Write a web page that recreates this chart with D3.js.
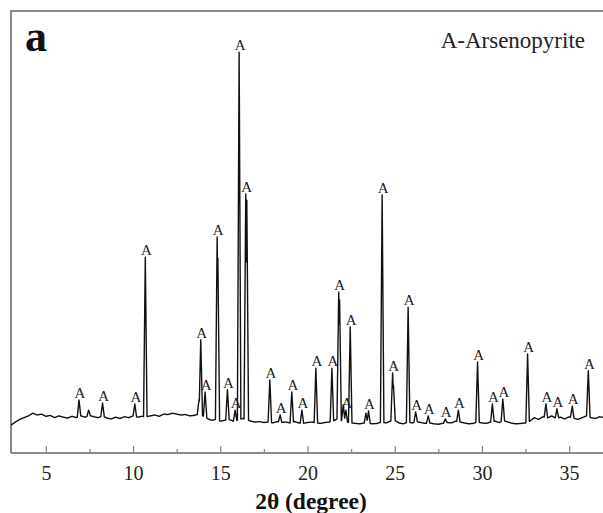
<!DOCTYPE html>
<html>
<head>
<meta charset="utf-8">
<script src="https://cdn.jsdelivr.net/npm/d3@7/dist/d3.min.js"></script>
<style>
  body { margin: 0; background: #fff; }
  svg { display: block; }
</style>
</head>
<body>
<svg width="603" height="513"></svg>
<script>
// labelled arsenopyrite reflections: 2theta and top intensity (arb. units)
var peakPos = [6.9, 8.25, 10.1, 10.7, 13.88, 14.13, 14.82, 15.41, 15.85, 16.08, 16.46, 17.84,
  18.43, 19.1, 19.68, 20.48, 21.4, 21.79, 22.2, 22.45, 23.5, 24.28, 24.88, 25.77,
  26.2, 26.92, 27.9, 28.65, 29.75, 30.6, 31.2, 32.62, 33.67, 34.3, 35.18, 36.1];
var peakTop = [120, 113, 111, 443, 256, 138, 489, 143, 97, 907, 586, 165,
  86, 138, 97, 192, 192, 364, 97, 285, 95, 584, 181, 330,
  93, 84, 77, 97, 206, 111, 122, 224, 111, 100, 106, 186];

// unlabelled shoulders / small reflections
var shoulderPos = [7.45, 13.78, 14.86, 16.52, 21.84, 22.05, 23.35, 24.93];
var shoulderTop = [97, 120, 441, 572, 346, 109, 90, 154];

// background, every 0.25 deg from 3 to 37
var bgStart = 3, bgStep = 0.25;
var bgInt = [63, 70, 76, 80, 84, 90, 86, 88, 83, 85, 80, 84, 81, 79, 83, 80,
  84, 81, 85, 82, 80, 84, 79, 77, 81, 78, 82, 80, 84, 81, 83, 82,
  84, 86, 83, 88, 87, 90, 88, 86, 87, 84, 85, 88, 84, 78, 74, 76,
  72, 74, 76, 72, 74, 78, 76, 72, 70, 71, 69, 70, 68, 71, 69, 70,
  68, 71, 68, 67, 69, 70, 68, 67, 69, 70, 73, 78, 72, 70, 68, 67,
  66, 68, 67, 66, 67, 70, 68, 72, 74, 68, 66, 70, 68, 71, 69, 67,
  68, 66, 65, 67, 69, 68, 72, 70, 68, 66, 67, 70, 68, 67, 70, 72,
  69, 73, 70, 67, 66, 67, 68, 72, 80, 76, 82, 79, 84, 78, 81, 77,
  82, 79, 76, 80, 84, 80, 78, 82, 80];

var xTicks = [5, 10, 15, 20, 25, 30, 35];
var xMinorTicks = [7.5, 12.5, 17.5, 22.5, 27.5, 32.5];

var svg = d3.select("svg");
var W = 603, H = 513;
var m = {left: 11, top: 11, right: 604, bottom: 453};
var halfWidth = 0.1;
var serif = "'Liberation Serif', 'Times New Roman', serif";

var x = d3.scaleLinear().domain([3, 37]).range([m.left, m.right]);
var y = d3.scaleLinear().domain([0, 1000]).range([m.bottom, m.top]);

var bgPos = bgInt.map(function(d, i) { return bgStart + i * bgStep; });
var bgAt = d3.scaleLinear().domain(bgPos).range(bgInt).clamp(true);

var allPos = peakPos.concat(shoulderPos);
var allTop = peakTop.concat(shoulderTop);
var net = allPos.map(function(p, i) { return allTop[i] - bgAt(p); });

function intensity(t) {
  var best = 0;
  allPos.forEach(function(p, i) {
    var v = net[i] * (1 - Math.abs(t - p) / halfWidth);
    if (v > best) best = v;
  });
  return bgAt(t) + best;
}

var samples = d3.range(3, 37.0001, 0.01).concat(allPos).sort(d3.ascending);
var trace = samples.map(function(t) { return [t, intensity(t)]; });

svg.append("rect").attr("width", W).attr("height", H).attr("fill", "#fff");

// frame (left and top edges)
svg.append("path")
    .attr("d", "M" + m.left + "," + m.bottom + "V" + m.top + "H" + W)
    .attr("fill", "none")
    .attr("stroke", "#8a8a8a")
    .attr("stroke-width", 2);

svg.append("clipPath").attr("id", "clip")
  .append("rect").attr("x", m.left).attr("y", 0).attr("width", W - m.left).attr("height", m.bottom);

svg.append("path")
    .datum(trace)
    .attr("clip-path", "url(#clip)")
    .attr("fill", "none")
    .attr("stroke", "#111")
    .attr("stroke-width", 1.4)
    .attr("stroke-linejoin", "round")
    .attr("d", d3.line().x(function(d) { return x(d[0]); }).y(function(d) { return y(d[1]); }));

// bottom axis, ticks pointing inward
var gx = svg.append("g").attr("transform", "translate(0," + m.bottom + ")")
    .call(d3.axisBottom(x).tickValues(xTicks).tickSizeInner(-7).tickSizeOuter(0).tickPadding(13));
gx.select(".domain").attr("stroke", "#8a8a8a").attr("stroke-width", 2)
    .attr("d", "M" + m.left + ",0H" + W);
gx.selectAll(".tick line").attr("stroke", "#8a8a8a").attr("stroke-width", 1.3);
gx.selectAll(".tick text").attr("font-family", serif).attr("font-size", 20).attr("fill", "#222");

var gm = svg.append("g").attr("transform", "translate(0," + m.bottom + ")")
    .call(d3.axisBottom(x).tickValues(xMinorTicks).tickSizeInner(-4).tickSizeOuter(0).tickFormat(""));
gm.select(".domain").remove();
gm.selectAll(".tick line").attr("stroke", "#8a8a8a").attr("stroke-width", 1.3);

// peak labels
svg.append("g").selectAll("text")
  .data(peakPos)
  .join("text")
    .attr("x", function(d) { return x(d) + 1; })
    .attr("y", function(d, i) { return y(peakTop[i]) - 2; })
    .attr("text-anchor", "middle")
    .attr("font-family", serif)
    .attr("font-size", 15)
    .attr("fill", "#222")
    .text("A");

svg.append("text")
    .attr("x", 25).attr("y", 51)
    .attr("font-family", serif).attr("font-weight", "bold").attr("font-size", 44)
    .attr("fill", "#111")
    .text("a");

svg.append("text")
    .attr("x", 585).attr("y", 48)
    .attr("text-anchor", "end")
    .attr("font-family", serif).attr("font-size", 23)
    .attr("fill", "#222")
    .text("A-Arsenopyrite");

svg.append("text")
    .attr("x", 311).attr("y", 509)
    .attr("text-anchor", "middle")
    .attr("font-family", serif).attr("font-weight", "bold").attr("font-size", 23.5)
    .attr("fill", "#111")
    .text("2θ (degree)");
</script>
</body>
</html>
